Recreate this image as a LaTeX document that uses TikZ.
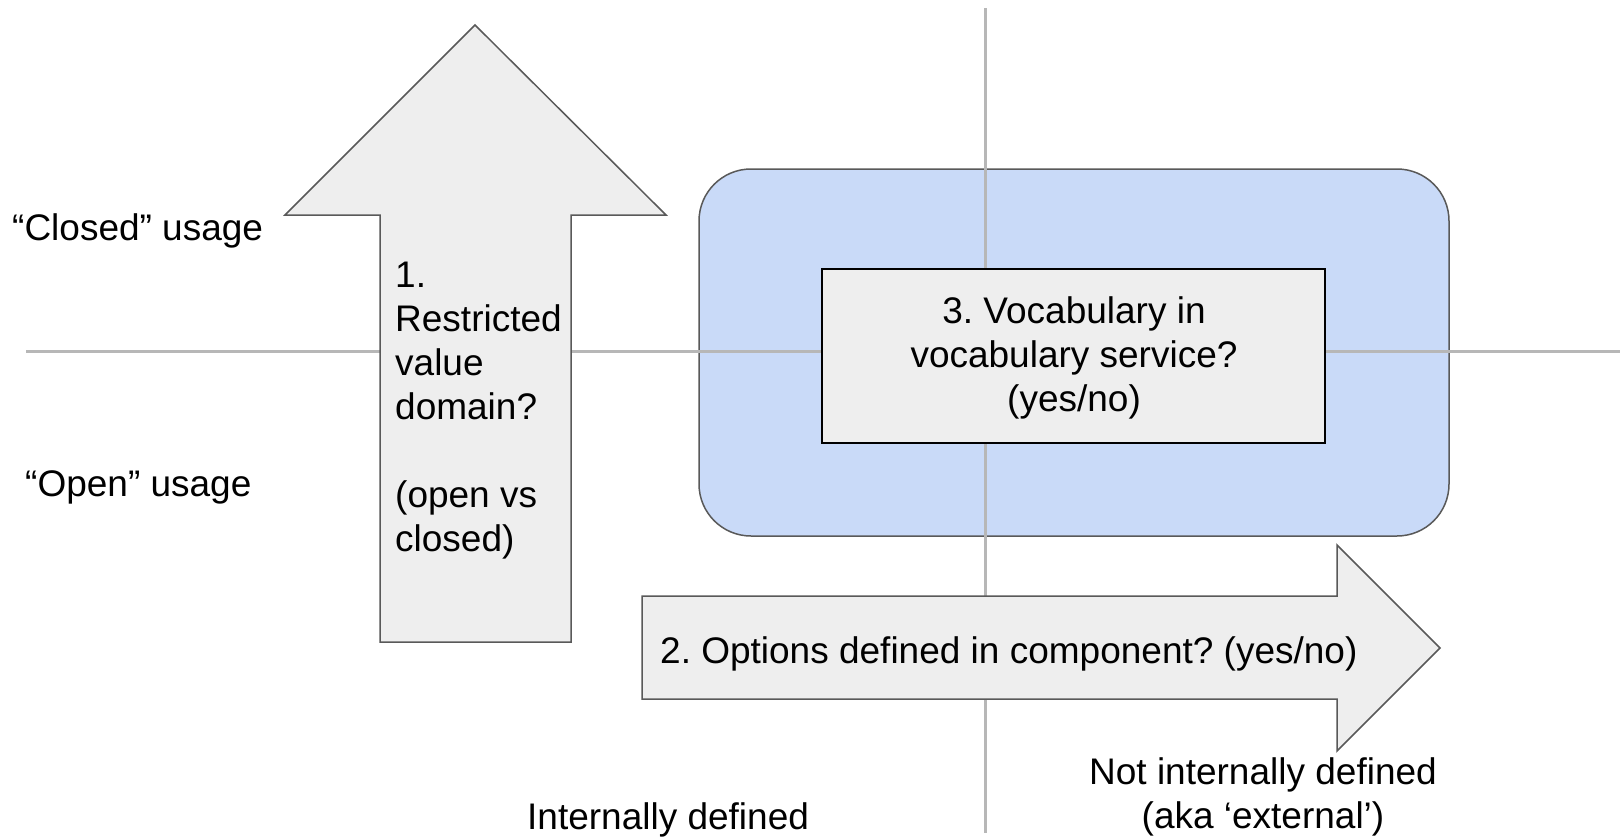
\documentclass[tikz,border=0pt]{standalone}
\usepackage{fontspec}
\setmainfont{Liberation Sans}
\frenchspacing
\definecolor{gridgray}{HTML}{B7B7B7}
\definecolor{arrowfill}{HTML}{EEEEEE}
\definecolor{edgegray}{HTML}{595959}
\definecolor{blueish}{HTML}{C9DAF8}
\begin{document}
\frenchspacing
\begin{tikzpicture}[x=1pt,y=-1pt,
  gridline/.style={draw=gridgray, line width=3pt},
  bigarrow/.style={draw=edgegray, fill=arrowfill, line width=1.5pt, line join=miter},
  bluebox/.style={draw=edgegray, fill=blueish, line width=1.5pt, rounded corners=52pt},
  innerbox/.style={draw=black, fill=arrowfill, line width=2pt},
  lbl/.style={inner sep=0pt, font=\fontsize{37}{44}\selectfont\frenchspacing, text=black},
]
\useasboundingbox (0,0) rectangle (1620,838);
\fill[white] (0,0) rectangle (1620,838);

% blue container
\node[bluebox, minimum width=750pt, minimum height=367pt] (vocab) at (1074,352.5) {};

% grid lines
\coordinate (hl) at (26,351);
\coordinate (hr) at (1620,351);
\coordinate (vt) at (985,8);
\coordinate (vb) at (985,833);
\draw[gridline] (hl) -- (hr);
\draw[gridline] (vt) -- (vb);

% up arrow
\draw[bigarrow] (380,642) -- (380,215) -- (285,215) -- (475,25) -- (666,215) -- (571,215) -- (571,642) -- cycle;
% right arrow
\draw[bigarrow] (642,596) -- (1337,596) -- (1337,545) -- (1440,648) -- (1337,751) -- (1337,699) -- (642,699) -- cycle;

% inner box
\node[innerbox, minimum width=503pt, minimum height=174pt] (q3) at (1073.5,356) {};
\node[lbl, align=center, anchor=north] (q3t) at (1074,296) {3. Vocabulary in\\vocabulary service?\\(yes/no)};

% texts
\node[lbl, anchor=base west] (closed) at (12,240) {“Closed” usage};
\node[lbl, anchor=base west] (open) at (25,496) {“Open” usage};
\node[lbl, align=left, anchor=north west] (q1) at (395,262) {1.\\Restricted\\value\\domain?\\[44pt](open vs\\closed)};
\node[lbl, anchor=base west] (q2) at (660,663) {2. Options defined in component? (yes/no)};
\node[lbl, align=center, anchor=north] (ext) at (1263,757) {Not internally defined\\(aka ‘external’)};
\node[lbl, anchor=base west] (int) at (527,829) {Internally defined};
\end{tikzpicture}
\end{document}
